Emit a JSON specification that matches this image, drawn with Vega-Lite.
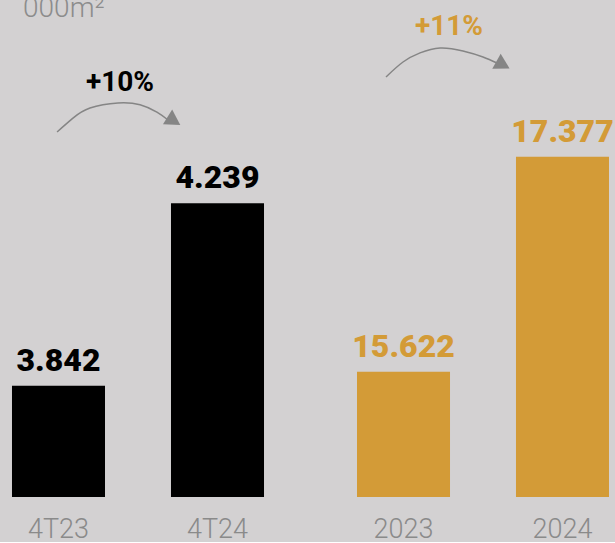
{
  "$schema": "https://vega.github.io/schema/vega-lite/v6.json",
  "background": "#d3d1d2",
  "padding": 0,
  "spacing": 69,
  "config": {
    "view": {"stroke": null},
    "font": "Roboto",
    "locale": {"number": {"decimal": ",", "thousands": ".", "grouping": [3], "currency": ["", ""]}}
  },
  "datasets": {
    "quarter": [
      {"period": "4T23", "value": 3842},
      {"period": "4T24", "value": 4239}
    ],
    "year": [
      {"period": "2023", "value": 15622},
      {"period": "2024", "value": 17377}
    ],
    "arrow1": [
      {"i": 0, "u": -0.009, "v": 4394},
      {"i": 1, "u": 0.091, "v": 4424},
      {"i": 2, "u": 0.198, "v": 4446},
      {"i": 3, "u": 0.374, "v": 4457},
      {"i": 4, "u": 0.513, "v": 4453},
      {"i": 5, "u": 0.619, "v": 4437},
      {"i": 6, "u": 0.689, "v": 4420}
    ],
    "arrow2": [
      {"i": 0, "u": -0.110, "v": 18029},
      {"i": 1, "u": -0.003, "v": 18151},
      {"i": 2, "u": 0.104, "v": 18225},
      {"i": 3, "u": 0.230, "v": 18265},
      {"i": 4, "u": 0.374, "v": 18241},
      {"i": 5, "u": 0.500, "v": 18192},
      {"i": 6, "u": 0.588, "v": 18143}
    ],
    "head1": [{"u": 0.726, "v": 4418}],
    "head2": [{"u": 0.626, "v": 18127}],
    "pct1": [{"u": 0.387, "v": 4483, "label": "+10%"}],
    "pct2": [{"u": 0.286, "v": 18371, "label": "+11%"}],
    "unit": [{"u": -0.223, "v": 4644, "label": "000m²"}]
  },
  "hconcat": [
    {
      "width": 276,
      "height": 497,
      "resolve": {"scale": {"x": "independent"}},
      "layer": [
        {
          "data": {"name": "quarter"},
          "mark": {"type": "bar", "color": "#000000"},
          "encoding": {
            "x": {"field": "period", "type": "nominal", "sort": null,
              "scale": {"type": "band", "paddingInner": 0.415, "paddingOuter": 0.0754, "round": false},
              "axis": {"title": null, "domain": false, "ticks": false, "tickSize": 0, "grid": false,
                "labelAngle": 0, "labelPadding": 40, "labelBaseline": "alphabetic",
                "labelFontSize": 27, "labelFont": "Roboto", "labelFontWeight": 300, "labelColor": "#8a8a8a"}},
            "y": {"field": "value", "type": "quantitative",
              "scale": {"domain": [3600, 4681], "zero": false, "nice": false}, "axis": null},
            "y2": {"datum": 3600}
          }
        },
        {
          "data": {"name": "quarter"},
          "mark": {"type": "text", "dy": -15, "baseline": "alphabetic", "fontSize": 32, "fontWeight": 900, "color": "#000000"},
          "encoding": {
            "x": {"field": "period", "type": "nominal", "sort": null,
              "scale": {"type": "band", "paddingInner": 0.415, "paddingOuter": 0.0754, "round": false}, "axis": null},
            "y": {"field": "value", "type": "quantitative",
              "scale": {"domain": [3600, 4681], "zero": false, "nice": false}, "axis": null},
            "text": {"field": "value", "type": "quantitative", "format": ",d"}
          }
        },
        {
          "data": {"name": "arrow1"},
          "mark": {"type": "line", "interpolate": "natural", "color": "#858585", "strokeWidth": 1.5},
          "encoding": {
            "x": {"field": "u", "type": "quantitative", "scale": {"domain": [-0.3679, 1.3679], "zero": false, "nice": false}, "axis": null},
            "y": {"field": "v", "type": "quantitative", "scale": {"domain": [3600, 4681], "zero": false, "nice": false}, "axis": null},
            "order": {"field": "i"}
          }
        },
        {
          "data": {"name": "head1"},
          "mark": {"type": "point", "shape": "triangle-up", "filled": true, "size": 300, "color": "#858585", "opacity": 1, "angle": 122},
          "encoding": {
            "x": {"field": "u", "type": "quantitative", "scale": {"domain": [-0.3679, 1.3679], "zero": false, "nice": false}, "axis": null},
            "y": {"field": "v", "type": "quantitative", "scale": {"domain": [3600, 4681], "zero": false, "nice": false}, "axis": null}
          }
        },
        {
          "data": {"name": "pct1"},
          "mark": {"type": "text", "baseline": "alphabetic", "fontSize": 28, "fontWeight": "bold", "color": "#000000"},
          "encoding": {
            "x": {"field": "u", "type": "quantitative", "scale": {"domain": [-0.3679, 1.3679], "zero": false, "nice": false}, "axis": null},
            "y": {"field": "v", "type": "quantitative", "scale": {"domain": [3600, 4681], "zero": false, "nice": false}, "axis": null},
            "text": {"field": "label"}
          }
        },
        {
          "data": {"name": "unit"},
          "mark": {"type": "text", "align": "left", "baseline": "alphabetic", "fontSize": 28, "fontWeight": 300, "color": "#8c8c8c", "clip": true},
          "encoding": {
            "x": {"field": "u", "type": "quantitative", "scale": {"domain": [-0.3679, 1.3679], "zero": false, "nice": false}, "axis": null},
            "y": {"field": "v", "type": "quantitative", "scale": {"domain": [3600, 4681], "zero": false, "nice": false}, "axis": null},
            "text": {"field": "label"}
          }
        }
      ]
    },
    {
      "width": 270,
      "height": 497,
      "resolve": {"scale": {"x": "independent"}},
      "layer": [
        {
          "data": {"name": "year"},
          "mark": {"type": "bar", "color": "#d39b37"},
          "encoding": {
            "x": {"field": "period", "type": "nominal", "sort": null,
              "scale": {"type": "band", "paddingInner": 0.415, "paddingOuter": 0.0566, "align": 0.6667, "round": false},
              "axis": {"title": null, "domain": false, "ticks": false, "tickSize": 0, "grid": false,
                "labelAngle": 0, "labelPadding": 40, "labelBaseline": "alphabetic",
                "labelFontSize": 27, "labelFont": "Roboto", "labelFontWeight": 300, "labelColor": "#8a8a8a"}},
            "y": {"field": "value", "type": "quantitative",
              "scale": {"domain": [14600, 18657], "zero": false, "nice": false}, "axis": null},
            "y2": {"datum": 14600}
          }
        },
        {
          "data": {"name": "year"},
          "mark": {"type": "text", "dy": -15, "baseline": "alphabetic", "fontSize": 32, "fontWeight": 900, "color": "#d39b37"},
          "encoding": {
            "x": {"field": "period", "type": "nominal", "sort": null,
              "scale": {"type": "band", "paddingInner": 0.415, "paddingOuter": 0.0566, "align": 0.6667, "round": false}, "axis": null},
            "y": {"field": "value", "type": "quantitative",
              "scale": {"domain": [14600, 18657], "zero": false, "nice": false}, "axis": null},
            "text": {"field": "value", "type": "quantitative", "format": ",d"}
          }
        },
        {
          "data": {"name": "arrow2"},
          "mark": {"type": "line", "interpolate": "natural", "color": "#858585", "strokeWidth": 1.5},
          "encoding": {
            "x": {"field": "u", "type": "quantitative", "scale": {"domain": [-0.3679, 1.3302], "zero": false, "nice": false}, "axis": null},
            "y": {"field": "v", "type": "quantitative", "scale": {"domain": [14600, 18657], "zero": false, "nice": false}, "axis": null},
            "order": {"field": "i"}
          }
        },
        {
          "data": {"name": "head2"},
          "mark": {"type": "point", "shape": "triangle-up", "filled": true, "size": 300, "color": "#858585", "opacity": 1, "angle": 119},
          "encoding": {
            "x": {"field": "u", "type": "quantitative", "scale": {"domain": [-0.3679, 1.3302], "zero": false, "nice": false}, "axis": null},
            "y": {"field": "v", "type": "quantitative", "scale": {"domain": [14600, 18657], "zero": false, "nice": false}, "axis": null}
          }
        },
        {
          "data": {"name": "pct2"},
          "mark": {"type": "text", "baseline": "alphabetic", "fontSize": 28, "fontWeight": "bold", "color": "#d39b37"},
          "encoding": {
            "x": {"field": "u", "type": "quantitative", "scale": {"domain": [-0.3679, 1.3302], "zero": false, "nice": false}, "axis": null},
            "y": {"field": "v", "type": "quantitative", "scale": {"domain": [14600, 18657], "zero": false, "nice": false}, "axis": null},
            "text": {"field": "label"}
          }
        }
      ]
    }
  ]
}
